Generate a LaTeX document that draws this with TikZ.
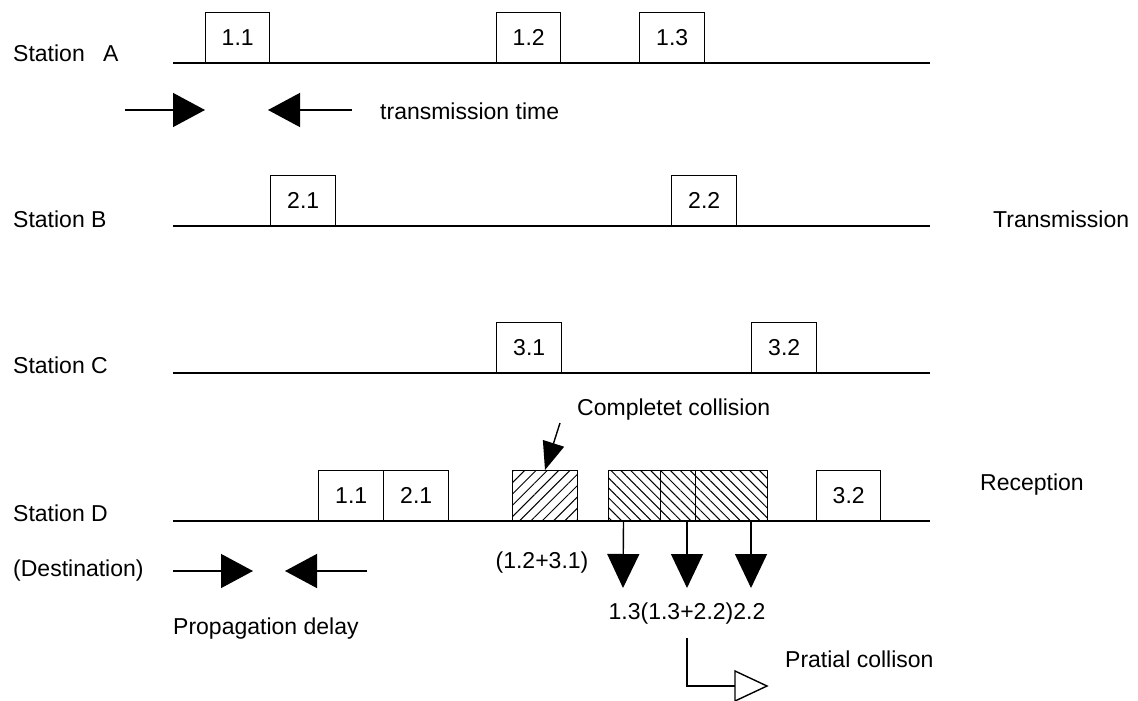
\documentclass[tikz,border=0pt]{standalone}
\usepackage{fontspec}
\setmainfont{Liberation Sans}
\usetikzlibrary{arrows.meta,patterns.meta}
\begin{document}
\begin{tikzpicture}[x=1pt,y=-1pt,
  txt/.style={font=\fontsize{23}{27}\selectfont, inner sep=0pt},
  frame/.style={draw, line width=1.4pt, inner sep=0pt, minimum height=50pt, anchor=south west, font=\fontsize{23}{27}\selectfont},
  axis/.style={line width=1.4pt},
  fwd/.style={line width=1.4pt, -{Triangle[length=32pt,width=34pt]}},
  down/.style={line width=1.4pt, -{Triangle[length=34pt,width=32pt]}},
  hatchA/.style={pattern={Lines[angle=45,distance=8pt,line width=1pt]}},
  hatchB/.style={pattern={Lines[angle=135,distance=7pt,line width=1pt]}}]
\useasboundingbox (0,0) rectangle (1138,701);

% station time lines
\draw[axis] (173,63) coordinate (a0) -- (930,63) coordinate (a1);
\draw[axis] (173,226) coordinate (b0) -- (930,226) coordinate (b1);
\draw[axis] (173,373) coordinate (c0) -- (930,373) coordinate (c1);
\draw[axis] (173,521) coordinate (d0) -- (930,521) coordinate (d1);

% station names
\node[txt, anchor=base west] (labA) at (13,62) {Station\hspace{12pt} A};
\node[txt, anchor=base west] (labB) at (13,227) {Station B};
\node[txt, anchor=base west] (labC) at (13,373) {Station C};
\node[txt, anchor=base west] (labD) at (13,521) {Station D};
\node[txt, anchor=base west] (dest) at (13,576) {(Destination)};

% frames of station A
\node[frame, minimum width=64pt] (a11) at (205,63) {1.1};
\node[frame, minimum width=64pt] (a12) at (496,63) {1.2};
\node[frame, minimum width=65pt] (a13) at (639,63) {1.3};

% frames of station B
\node[frame, minimum width=65pt] (b21) at (270,226) {2.1};
\node[frame, minimum width=65pt] (b22) at (671,226) {2.2};

% frames of station C
\node[frame, minimum width=65pt] (c31) at (496,373) {3.1};
\node[frame, minimum width=65pt] (c32) at (751,373) {3.2};

% frames received at station D
\node[frame, minimum width=65pt] (d11) at (318,521) {1.1};
\node[frame, minimum width=65pt] (d21) at (383,521) {2.1};
\node[frame, hatchA, minimum width=65pt] (dx1) at (512,521) {};
\node[frame, hatchB, minimum width=52pt] (dx2) at (608,521) {};
\node[frame, hatchB, minimum width=35pt] (dx3) at (660,521) {};
\node[frame, hatchB, minimum width=72pt] (dx4) at (695,521) {};
\node[frame, minimum width=64pt] (d32) at (816,521) {3.2};

% transmission time
\coordinate (tt1) at (125,110);
\coordinate (tt2) at (205,110);
\coordinate (tt3) at (352,110);
\coordinate (tt4) at (268,110);
\draw[fwd] (tt1) -- (tt2);
\draw[fwd] (tt3) -- (tt4);
\node[txt, anchor=west] (ttl) at (380,111) {transmission time};

% propagation delay
\coordinate (pd1) at (173,571);
\coordinate (pd2) at (253,571);
\coordinate (pd3) at (367,571);
\coordinate (pd4) at (285,571);
\draw[fwd] (pd1) -- (pd2);
\draw[fwd] (pd3) -- (pd4);
\node[txt, anchor=west] (pdl) at (173,629) {Propagation delay};

% side captions
\node[txt, anchor=base west] (tx) at (993,227) {Transmission};
\node[txt, anchor=base west] (rx) at (980,490) {Reception};

% complete collision
\node[txt, anchor=west] (cc) at (577,410) {Completet collision};
\coordinate (cc0) at (560,423);
\draw[line width=1.4pt, -{Triangle[length=28pt,width=22pt]}] (cc0) -- (dx1.north);
\node[txt] (cc1) at (542,563) {(1.2+3.1)};

% partial collision
\coordinate (r1) at (623,588);
\coordinate (r2) at (687,588);
\coordinate (r3) at (751,588);
\draw[down] (dx2.south) ++(-11,0) coordinate (s1) (s1) -- (r1);
\draw[down] (687,521) -- (r2);
\draw[down] (751,521) -- (r3);
\node[txt] (pcl) at (687,614) {1.3(1.3+2.2)2.2};
\coordinate (pc0) at (687,638);
\coordinate (pc1) at (767,686);
\draw[line width=1.4pt] (pc0) |- (pc1);
\draw[line width=1.4pt, fill=white] (735,671) -- (pc1) -- (735,701) -- cycle;
\node[txt, anchor=base west] (pc) at (785,667) {Pratial collison};
\end{tikzpicture}
\end{document}
